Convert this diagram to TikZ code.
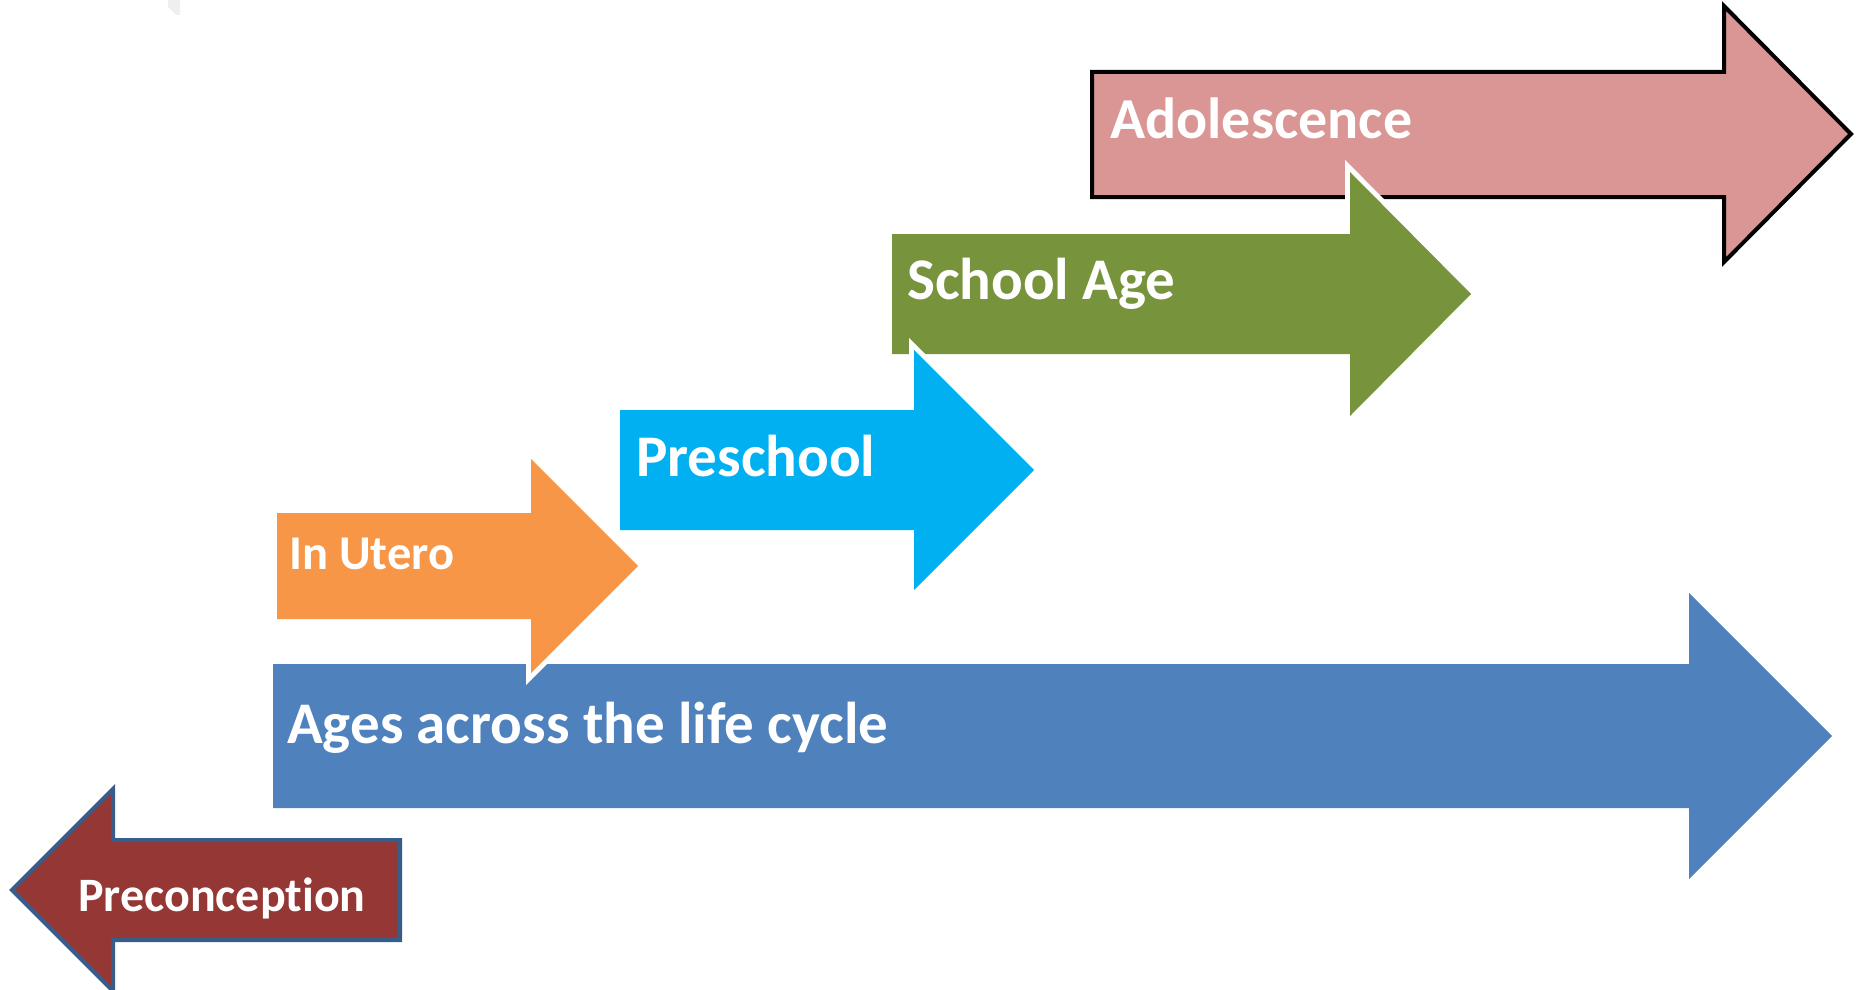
\documentclass[tikz,border=0pt]{standalone}
\usepackage{fontspec}
\setmainfont{Carlito}[Ligatures=NoCommon]
\definecolor{adoC}{HTML}{D99694}
\definecolor{schC}{HTML}{77933C}
\definecolor{preC}{HTML}{00B0F0}
\definecolor{uteC}{HTML}{F79646}
\definecolor{ageC}{HTML}{4F81BD}
\definecolor{conC}{HTML}{953735}
\definecolor{conL}{HTML}{385D8A}
\definecolor{ghostC}{HTML}{EFEFEF}
\begin{document}
\begin{tikzpicture}[x=1pt,y=-1pt,
  lbl/.style={anchor=base west, inner sep=0pt, text=white, font=\bfseries},
  whiteedge/.style={preaction={draw=white, line width=10pt, miter limit=10, line join=miter}},
  blackedge/.style={draw=black, line width=4pt, line join=miter},
  blueedge/.style={draw=conL, line width=4pt, line join=miter}]
\useasboundingbox (0,0) rectangle (1856,990);
% faint artefact top left
\fill[ghostC] (168,0) -- (180,0) -- (180,15) -- (176,15) -- (168,7) -- cycle;
% Adolescence
\path[fill=adoC, blackedge] (1092,72) -- (1724,72) -- (1724,6) -- (1851,134) -- (1724,262) -- (1724,197) -- (1092,197) -- cycle;
\node[lbl, font=\bfseries\fontsize{58}{64}\selectfont] (adol) at (1110,138) {Adolescence};
% School Age
\path[fill=schC, whiteedge] (892,234) -- (1350,234) -- (1350,172) -- (1471,294) -- (1350,416) -- (1350,354) -- (892,354) -- cycle;
\node[lbl, font=\bfseries\fontsize{59}{64}\selectfont] (school) at (907,299) {School Age};
% Preschool
\path[fill=preC, whiteedge] (620,410) -- (914,410) -- (914,350) -- (1034,470) -- (914,590) -- (914,530) -- (620,530) -- cycle;
\node[lbl, font=\bfseries\fontsize{59}{64}\selectfont] (presch) at (636,476) {Preschool};
% Ages across the life cycle
\fill[ageC] (273,664) -- (1689,664) -- (1689,593) -- (1832,736) -- (1689,879) -- (1689,808) -- (273,808) -- cycle;
\node[lbl, font=\bfseries\fontsize{59}{64}\selectfont] (ages) at (287,743) {Ages across the life cycle};
% In Utero
\path[fill=uteC, whiteedge] (277,513) -- (531,513) -- (531,459) -- (638,566) -- (531,673) -- (531,619) -- (277,619) -- cycle;
\node[lbl, font=\bfseries\fontsize{48.5}{54}\selectfont] (utero) at (289,569) {In Utero};
% Preconception
\path[fill=conC, blueedge] (400,840) -- (113,840) -- (113,789) -- (12,890) -- (113,991) -- (113,940) -- (400,940) -- cycle;
\node[lbl, font=\bfseries\fontsize{48}{54}\selectfont] (precon) at (78,911) {Preconception};
\end{tikzpicture}
\end{document}
